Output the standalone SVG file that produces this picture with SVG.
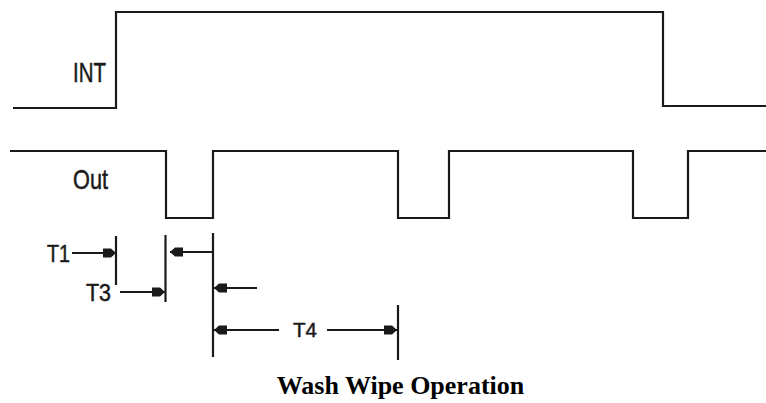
<svg xmlns="http://www.w3.org/2000/svg" width="766" height="403" viewBox="0 0 766 403">
<style>
.sig{fill:none;stroke:#1a1a1a;stroke-width:2.2;stroke-linejoin:miter}
.tick{stroke:#1a1a1a;stroke-width:2.2}
.dim{stroke:#1a1a1a;stroke-width:1.8;marker-end:url(#ah)}
.lbl{font-family:"Liberation Sans",Arial,sans-serif;fill:#1a1a1a;stroke:#1a1a1a;stroke-width:0.5}
.title{font-family:"Liberation Serif","Times New Roman",serif;font-weight:bold;font-size:26px;fill:#000}
</style>
<defs>
<marker id="ah" markerUnits="userSpaceOnUse" markerWidth="16" markerHeight="12" viewBox="-15 -6 16 12" refX="0" refY="0" orient="auto">
<path d="M0,0 L-5,-4.5 L-13,-4.5 L-13,4.5 L-5,4.5 Z" fill="#1a1a1a"/>
</marker>
</defs>
<rect width="766" height="403" fill="#fff"/>
<g id="signals">
<g id="int-signal"><path class="sig" d="M13,108 H116 V12 H663 V106 H766"/><text class="lbl" x="73" y="82" font-size="28" textLength="33" lengthAdjust="spacingAndGlyphs">INT</text></g>
<g id="out-signal"><path class="sig" d="M10,151 H166 V218 H213 V151 H398 V218 H449 V151 H633 V218 H688 V151 H766"/><text class="lbl" x="73" y="189" font-size="28" textLength="35" lengthAdjust="spacingAndGlyphs">Out</text></g>
</g>
<g id="ticks">
<line class="tick" x1="116" y1="236" x2="116" y2="285"/>
<line class="tick" x1="165.5" y1="235" x2="165.5" y2="302"/>
<line class="tick" x1="213" y1="233" x2="213" y2="357"/>
<line class="tick" x1="398" y1="305" x2="398" y2="360"/>
</g>
<g id="connectors">
<line class="dim" x1="72" y1="253" x2="116" y2="253"/>
<line class="dim" x1="120" y1="292" x2="165" y2="292"/>
<line class="dim" x1="213" y1="252" x2="170" y2="252"/>
<line class="dim" x1="257" y1="288" x2="214" y2="288"/>
<line class="dim" x1="279" y1="330" x2="214" y2="330"/>
<line class="dim" x1="327" y1="330" x2="397" y2="330"/>
</g>
<g id="labels">
<text class="lbl" x="47" y="262" font-size="23" textLength="23" lengthAdjust="spacingAndGlyphs">T1</text>
<text class="lbl" x="86" y="301" font-size="23" textLength="25" lengthAdjust="spacingAndGlyphs">T3</text>
<text class="lbl" x="293" y="337" font-size="21" textLength="24" lengthAdjust="spacingAndGlyphs">T4</text>
</g>
<text class="title" x="400.5" y="394" text-anchor="middle">Wash Wipe Operation</text>
</svg>
